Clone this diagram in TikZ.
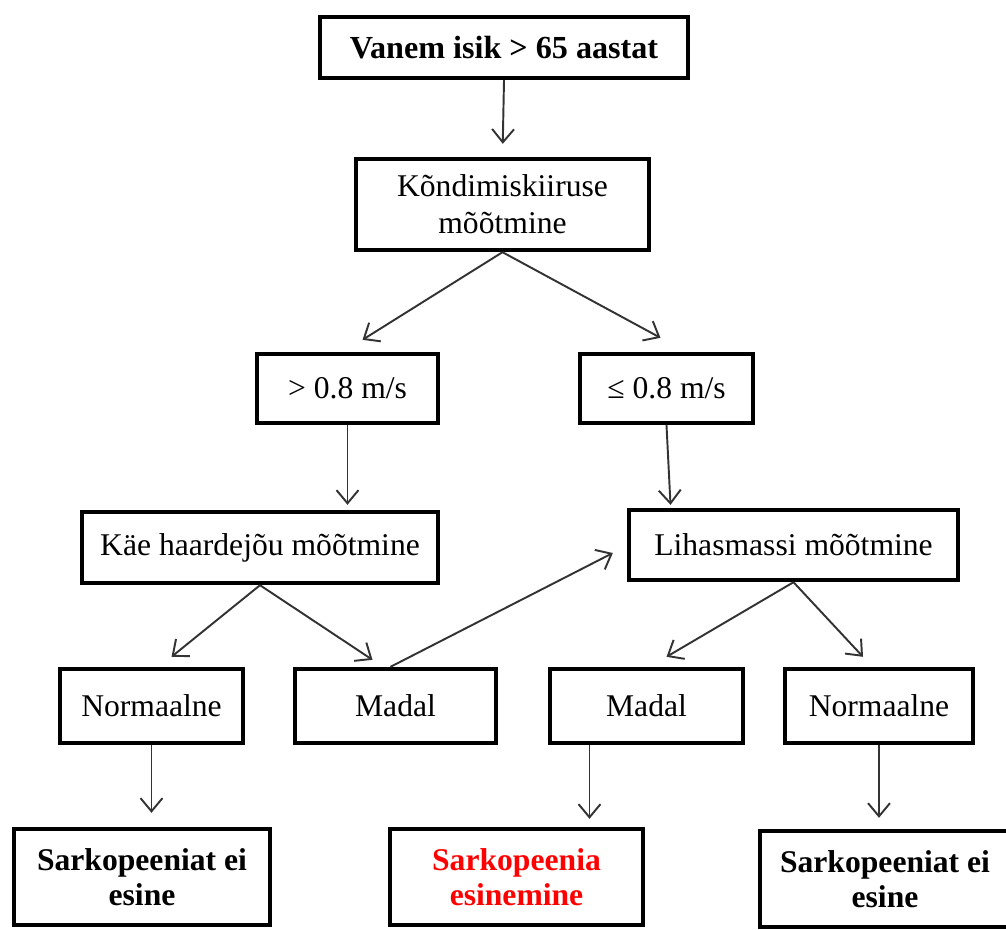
\documentclass[tikz,border=0pt]{standalone}
\usepackage{fontspec}
\setmainfont{Liberation Serif}
\usetikzlibrary{arrows.meta,positioning,calc}

\begin{document}
\begin{tikzpicture}[x=0.02cm,y=-0.02cm,
  box/.style={draw,line width=2.5pt,align=center,inner sep=0pt,font=\fontsize{18}{21}\selectfont},
  endbox/.style={box,font=\bfseries\fontsize{18}{20}\selectfont},
  arr/.style={-{Straight Barb[length=7.5pt,width=12.5pt]},line width=1.1pt,draw=black!80}]
  \useasboundingbox (0,0) rectangle (1006,929);
  % top
  \node[box,font=\bfseries\fontsize{18.3}{21}\selectfont,minimum width=7.36cm,minimum height=1.22cm] (alt) at (504,47.5) {Vanem isik > 65 aastat};
  \node[box,minimum width=5.86cm,minimum height=1.82cm] (kond) at (502.5,204.5) {Kõndimiskiiruse\\mõõtmine};
  \node[box,minimum width=3.62cm,minimum height=1.38cm] (fast) at (347.5,388.5) {> 0.8 m/s};
  \node[box,minimum width=3.46cm,minimum height=1.38cm] (slow) at (666.5,388.5) {≤ 0.8 m/s};
  \node[box,minimum width=7.12cm,minimum height=1.42cm] (kaed) at (260,547.5) {Käe haardejõu mõõtmine};
  \node[box,minimum width=6.58cm,minimum height=1.40cm] (lihas) at (793.5,545) {Lihasmassi mõõtmine};
  \node[box,minimum width=3.66cm,minimum height=1.48cm] (norm1) at (151.5,706) {Normaalne};
  \node[box,minimum width=4.02cm,minimum height=1.48cm] (low1) at (395.5,706) {Madal};
  \node[box,minimum width=3.86cm,minimum height=1.48cm] (low2) at (646.5,706) {Madal};
  \node[box,minimum width=3.76cm,minimum height=1.48cm] (norm2) at (879,706) {Normaalne};
  % results
  \node[endbox,minimum width=5.12cm,minimum height=1.92cm] (no1) at (142,877) {Sarkopeeniat ei\\esine};
  \node[endbox,text=red,minimum width=5.06cm,minimum height=1.92cm] (yes) at (516.5,877) {Sarkopeenia\\esinemine};
  \node[endbox,minimum width=5.0cm,minimum height=1.92cm] (no2) at (885,879) {Sarkopeeniat ei\\esine};
  % arrows
  \draw[arr,shorten >=0.26cm] (alt.south) -- (kond.north);
  \draw[arr] (kond.south) -- ($(fast.north)+(15,-12)$);
  \draw[arr] (kond.south) -- ($(slow.north)+(-6,-14)$);
  \draw[arr,shorten >=0.1cm] (fast.south) -- (fast.south |- kaed.north);
  \draw[arr] (slow.south) -- ($(slow.south |- lihas.north)+(4,-3)$);
  \draw[arr] (kaed.south) -- ($(norm1.north)+(20,-10)$);
  \draw[arr] (kaed.south) -- ($(low1.north)+(-23,-7)$);
  \draw[arr] ($(low1.north)+(-5,0)$) -- ($(lihas.west)+(-14,8)$);
  \draw[arr] (lihas.south) -- ($(low2.north)+(20,-10)$);
  \draw[arr] (lihas.south) -- ($(norm2.north)+(-16,-10)$);
  \draw[arr,shorten >=0.28cm] (norm1.south) -- (norm1.south |- no1.north);
  \draw[arr] ($(low2.south)+(-57,0)$) -- ($(low2.south |- yes.north)+(-57,-8)$);
  \draw[arr] (norm2.south) -- ($(norm2.south |- no2.north)+(0,-11)$);
\end{tikzpicture}
\end{document}
